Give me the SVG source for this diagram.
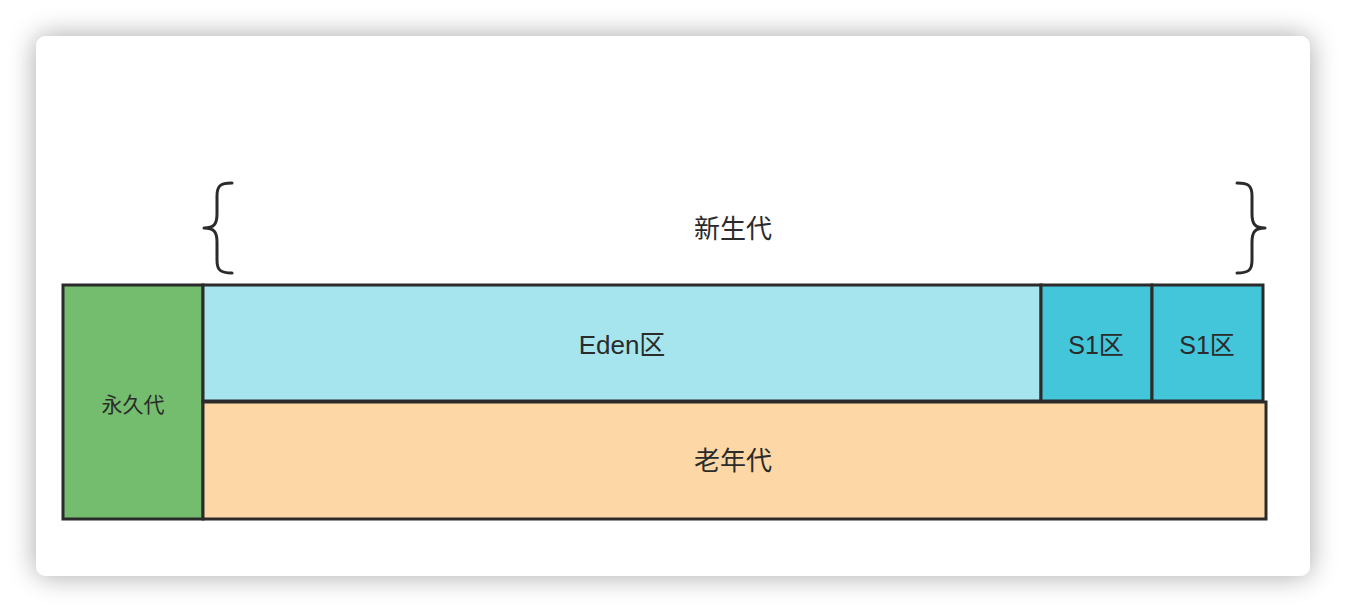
<svg xmlns="http://www.w3.org/2000/svg" width="1346" height="612" viewBox="0 0 1346 612">
<defs>
<filter id="sh" x="-10%" y="-20%" width="120%" height="140%">
<feGaussianBlur in="SourceAlpha" stdDeviation="14"/>
<feComponentTransfer><feFuncA type="linear" slope="0.35"/></feComponentTransfer>
<feMerge><feMergeNode/><feMergeNode in="SourceGraphic"/></feMerge>
</filter>
</defs>
<style>
.box{stroke:#2b2b2b;stroke-width:3}
.t{font-family:"Liberation Sans","Noto Sans CJK SC",sans-serif;fill:#2b2b2b;text-anchor:middle;dominant-baseline:central}
.br{fill:none;stroke:#2b2b2b;stroke-width:3;stroke-linecap:round;stroke-linejoin:round}
</style>
<rect width="1346" height="612" fill="#ffffff"/>
<rect x="36" y="36" width="1274" height="540" rx="10" fill="#ffffff" filter="url(#sh)"/>
<g id="perm"><rect class="box" x="63" y="285" width="140" height="234" fill="#74bd6e"/><text class="t" x="133" y="404" font-size="21">永久代</text></g>
<g id="eden"><rect class="box" x="203" y="285" width="838" height="116" fill="#a7e5ee"/><text class="t" x="622" y="345" font-size="26">Eden区</text></g>
<g id="s1a"><rect class="box" x="1041" y="285" width="111" height="116" fill="#43c5da"/><text class="t" x="1096" y="345" font-size="25">S1区</text></g>
<g id="s1b"><rect class="box" x="1152" y="285" width="111" height="116" fill="#43c5da"/><text class="t" x="1207" y="345" font-size="25">S1区</text></g>
<g id="old"><rect class="box" x="203" y="402" width="1063" height="117" fill="#fdd8a6"/><text class="t" x="733" y="461" font-size="26">老年代</text></g>
<g id="young"><text class="t" x="733" y="229" font-size="26">新生代</text>
<path class="br" d="M232,183 C220,183 217,186 217,196 L217,214 C217,224 214,228 204,228 C214,228 217,232 217,242 L217,260 C217,270 220,273 232,273"/>
<path class="br" d="M1237,183 C1249,183 1252,186 1252,196 L1252,214 C1252,224 1255,228 1265,228 C1255,228 1252,232 1252,242 L1252,260 C1252,270 1249,273 1237,273"/>
</g>
<g id="connectors"></g>
</svg>
